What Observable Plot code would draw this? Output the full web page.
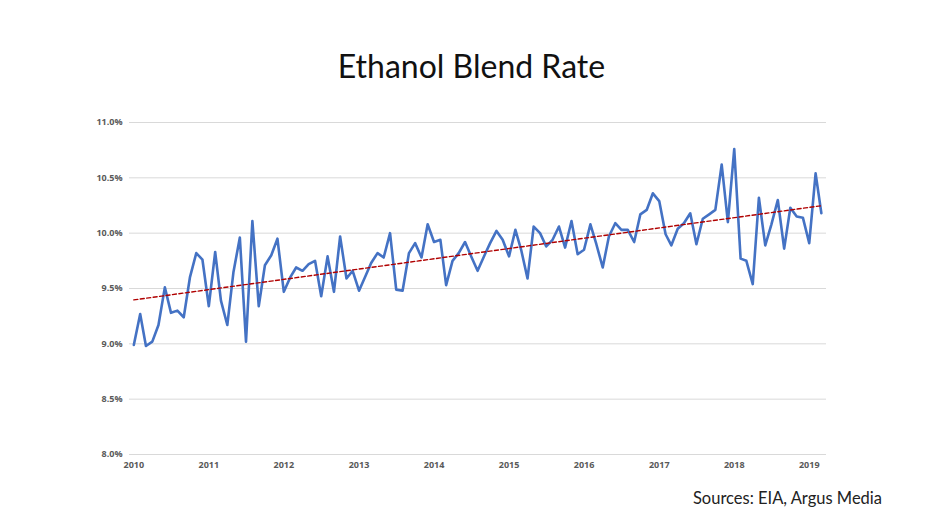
<!DOCTYPE html>
<html>
<head>
<meta charset="utf-8">
<script src="https://cdn.jsdelivr.net/npm/d3@7"></script>
<script src="https://cdn.jsdelivr.net/npm/@observablehq/plot@0.6"></script>
<style>
  html, body { margin: 0; padding: 0; background: #fff; }
  #wrap { width: 943px; height: 530px; position: relative; overflow: hidden; }
  #title { height: 100px; box-sizing: border-box; padding-top: 48px; text-align: center;
           font-family: Lato, "Open Sans", sans-serif; font-size: 32px; color: #111; line-height: 36px; }
  #caption { position: absolute; top: 488px; right: 61px; font-family: Lato, "Open Sans", sans-serif;
             font-size: 16.5px; color: #222; }
</style>
</head>
<body>
<div id="wrap">
  <div id="title">Ethanol Blend Rate</div>
  <div id="chart"></div>
  <div id="caption">Sources: EIA, Argus Media</div>
</div>
<script>
// Monthly ethanol blend rate (%), Jan 2010 – Mar 2019
const startYear = 2010;
const blendRate = [
  // 2010
  8.99, 9.27, 8.98, 9.02, 9.17, 9.51, 9.28, 9.30, 9.24, 9.60, 9.82, 9.76,
  // 2011
  9.34, 9.83, 9.39, 9.17, 9.65, 9.96, 9.02, 10.11, 9.34, 9.71, 9.80, 9.95,
  // 2012
  9.47, 9.60, 9.69, 9.66, 9.72, 9.75, 9.43, 9.79, 9.47, 9.97, 9.59, 9.66,
  // 2013
  9.48, 9.61, 9.73, 9.82, 9.78, 10.00, 9.49, 9.48, 9.82, 9.91, 9.78, 10.08,
  // 2014
  9.92, 9.94, 9.53, 9.75, 9.82, 9.92, 9.79, 9.66, 9.79, 9.91, 10.02, 9.94,
  // 2015
  9.79, 10.03, 9.85, 9.59, 10.06, 10.00, 9.88, 9.94, 10.06, 9.87, 10.11, 9.81,
  // 2016
  9.85, 10.08, 9.90, 9.69, 9.97, 10.09, 10.03, 10.03, 9.92, 10.17, 10.21, 10.36,
  // 2017
  10.29, 9.99, 9.89, 10.04, 10.09, 10.18, 9.90, 10.13, 10.17, 10.21, 10.62, 10.10,
  // 2018
  10.76, 9.77, 9.75, 9.54, 10.32, 9.89, 10.08, 10.30, 9.86, 10.23, 10.15, 10.14,
  // 2019
  9.91, 10.54, 10.18
];
const yTicks = [8.0, 8.5, 9.0, 9.5, 10.0, 10.5, 11.0];
const xTickYears = [2010, 2011, 2012, 2013, 2014, 2015, 2016, 2017, 2018, 2019];

const data = blendRate.map((v, i) => ({
  date: new Date(startYear + Math.floor(i / 12), i % 12, 1),
  rate: v
}));

const chart = Plot.plot({
  width: 943,
  height: 380,
  marginTop: 22,
  marginBottom: 26,
  marginLeft: 129,
  marginRight: 117,
  style: { fontFamily: "'Open Sans', Lato, sans-serif", fontSize: "9px", color: "#595959", background: "#fff" },
  x: {
    type: "time",
    domain: [new Date(2009, 11, 11), new Date(2019, 2, 26)],
    ticks: xTickYears.map(y => new Date(y, 0, 1)),
    tickFormat: d3.timeFormat("%Y"),
    tickSize: 0,
    tickPadding: 7,
    label: null
  },
  y: {
    domain: [8.0, 11.0],
    ticks: yTicks,
    tickFormat: d => d.toFixed(1) + "%",
    tickSize: 0,
    tickPadding: 7,
    label: null
  },
  marks: [
    Plot.ruleY(yTicks, { stroke: "#d9d9d9", strokeWidth: 1 }),
    Plot.axisY({ ticks: yTicks, tickFormat: d => d.toFixed(1) + "%", tickSize: 0, tickPadding: 7, label: null, fontWeight: "bold", fill: "#595959" }),
    Plot.axisX({ ticks: xTickYears.map(y => new Date(y, 0, 1)), tickFormat: d3.timeFormat("%Y"), tickSize: 0, tickPadding: 7, label: null, fontWeight: "bold", fill: "#595959" }),
    Plot.line(data, { x: "date", y: "rate", stroke: "#4472C4", strokeWidth: 2.6, strokeLinejoin: "round" }),
    Plot.linearRegressionY(data, { x: "date", y: "rate", ci: 0, stroke: "#B00000", strokeWidth: 1.4, strokeDasharray: "4,2.5" })
  ]
});
document.getElementById("chart").appendChild(chart);
</script>
</body>
</html>
